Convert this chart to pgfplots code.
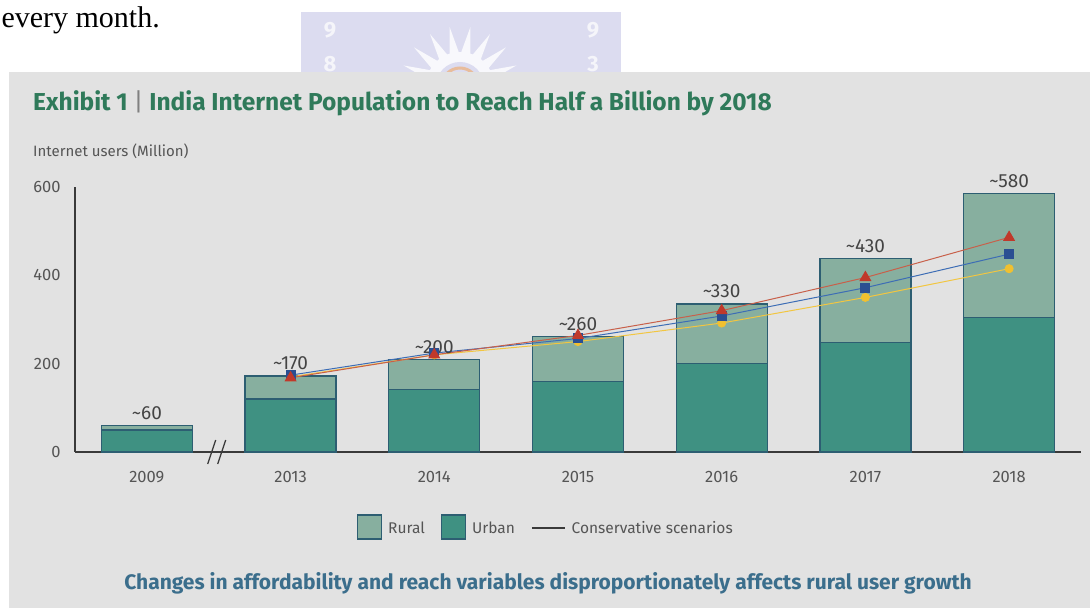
\documentclass[border=0pt]{standalone}
\usepackage{fontspec}
\setmainfont{Fira Sans}
\newfontfamily\serif{Liberation Serif}
\usepackage{pgfplots}
\usepackage{pgfplotstable}
\pgfplotsset{compat=1.18}

\definecolor{panel}{HTML}{E2E2E2}
\definecolor{urban}{HTML}{3F9182}
\definecolor{rural}{HTML}{87AF9F}
\definecolor{barline}{HTML}{2D5E72}
\definecolor{titlegreen}{HTML}{2F7A5A}
\definecolor{subblue}{HTML}{3B6E8C}
\definecolor{txtgray}{HTML}{555555}
\definecolor{axisgray}{HTML}{3A3A3A}
\definecolor{redline}{HTML}{C8604A}
\definecolor{redmark}{HTML}{C0392B}
\definecolor{blueline}{HTML}{3D6DB5}
\definecolor{bluemark}{HTML}{2A4F92}
\definecolor{yelline}{HTML}{F2C641}
\definecolor{yelmark}{HTML}{F0C030}
\definecolor{lavender}{HTML}{DCDCF0}

\pgfplotsset{
  boxlegend/.style={legend image code/.code={\draw[##1] (0pt,-11pt) rectangle (24pt,13pt);}},
  dashlegend/.style={legend image code/.code={\draw[##1] (0pt,0pt) -- (33pt,0pt);}},
}

% bar heights: total (rural on top of urban) and urban part
\pgfplotstableread{
x total urban lab
0 60  50  60
1 172 120 170
2 210 142 200
3 262 160 260
4 335 200 330
5 438 248 430
6 585 305 580
}\bars

% conservative scenarios
\pgfplotstableread{
x red blue yellow
1 168 174 170
2 220 224 220
3 264 257 250
4 320 308 292
5 395 372 350
6 486 448 415
}\scen

\begin{document}
\begin{tikzpicture}[x=1pt,y=1pt]
\useasboundingbox (0,0) rectangle (1090,608);
\fill[white] (0,0) rectangle (1090,608);
\node[anchor=base east, inner sep=0pt, font=\serif\fontsize{30}{32}\selectfont] at (160,580) {every month.};

% watermark
\begin{scope}
  \clip (301,536) rectangle (621,596);
  \fill[lavender] (301,536) rectangle (621,596);
  \foreach \a in {20,40,...,160}
    \fill[shift={(460,522)}, white!80!lavender] (\a-9:32) -- (\a:60) -- (\a+9:32) -- cycle;
  \fill[white!80!lavender] (460,522) circle (34);
  \fill[lavender] (460,522) circle (24);
  \draw[orange!35!lavender, line width=3pt] (460,522) circle (18);
  \node[font=\bfseries\fontsize{22}{24}\selectfont, text=white!70!lavender] at (330,578) {9};
  \node[font=\bfseries\fontsize{22}{24}\selectfont, text=white!70!lavender] at (330,544) {8};
  \node[font=\bfseries\fontsize{22}{24}\selectfont, text=white!70!lavender] at (593,578) {9};
  \node[font=\bfseries\fontsize{22}{24}\selectfont, text=white!70!lavender] at (593,544) {3};
\end{scope}

\fill[panel] (9,0) rectangle (1090,536);

\node[anchor=base west, inner sep=0pt, font=\bfseries\fontsize{24.5}{26}\selectfont, text=titlegreen] at (33,497)
  {Exhibit 1 {\color{gray}\mdseries|} India Internet Population to Reach Half a Billion by 2018};
\node[anchor=base west, inner sep=0pt, font=\fontsize{15}{17}\selectfont, text=txtgray] at (33,451)
  {Internet users (Million)};

\begin{axis}[
  at={(75pt,156pt)}, anchor=south west,
  scale only axis, width=1006pt, height=265pt,
  xmin=-0.5, xmax=6.5, ymin=0, ymax=600,
  axis x line=bottom, axis y line=left,
  axis line style={-, draw=axisgray, line width=2.4pt},
  xtick={0,...,6},
  xticklabels={2009,2013,2014,2015,2016,2017,2018},
  ytick={0,200,400,600},
  major tick length=0pt,
  tick label style={font=\fontsize{16.5}{18}\selectfont, text=txtgray},
  yticklabel style={xshift=-11pt},
  xticklabel style={yshift=-16pt},
  /pgf/number format/assume math mode=true,
  clip=false,
  legend columns=3,
  legend style={at={(0.468,-0.283)}, anchor=center, draw=none, fill=none,
    font=\fontsize{15.5}{17}\selectfont, text=txtgray,
    /tikz/every even column/.append style={column sep=14pt},
    /tikz/every odd column/.append style={column sep=4pt}},
]
\addplot[ybar, bar width=91pt, bar shift=0pt, fill=rural, draw=barline, line width=1.3pt,
  boxlegend,
  point meta=explicit symbolic,
  nodes near coords={\textasciitilde\pgfplotspointmeta},
  nodes near coords style={anchor=south, yshift=2pt, text=txtgray!80!black, font=\fontsize{19}{21}\selectfont}]
  table[x=x, y=total, meta=lab] {\bars};
\addlegendentry{Rural}
\addplot[ybar, bar width=91pt, bar shift=0pt, fill=urban, draw=barline, line width=1.3pt,
  boxlegend]
  table[x=x, y=urban] {\bars};
\addlegendentry{Urban}

\addplot[forget plot, yelline, line width=1pt, mark=*, mark size=4pt,
  mark options={fill=yelmark, draw=yelmark}] table[x=x, y=yellow] {\scen};
\addplot[forget plot, blueline, line width=1pt, mark=square*, mark size=4.5pt,
  mark options={fill=bluemark, draw=bluemark}] table[x=x, y=blue] {\scen};
\addplot[forget plot, redline, line width=1pt, mark=triangle*, mark size=6pt,
  mark options={fill=redmark, draw=redmark}] table[x=x, y=red] {\scen};

\addlegendimage{draw=axisgray, line width=1.8pt, dashlegend}
\addlegendentry{Conservative scenarios}

% axis break
\draw[axisgray, line width=1.3pt] ([xshift=-11pt,yshift=-12pt]axis cs:0.5,0) -- ++(8pt,24pt);
\draw[axisgray, line width=1.3pt] ([xshift=-1pt,yshift=-12pt]axis cs:0.5,0) -- ++(8pt,24pt);
\end{axis}

\node[anchor=base, inner sep=0pt, font=\bfseries\fontsize{21}{23}\selectfont, text=subblue] at (548,19)
  {Changes in affordability and reach variables disproportionately affects rural user growth};
\end{tikzpicture}
\end{document}
